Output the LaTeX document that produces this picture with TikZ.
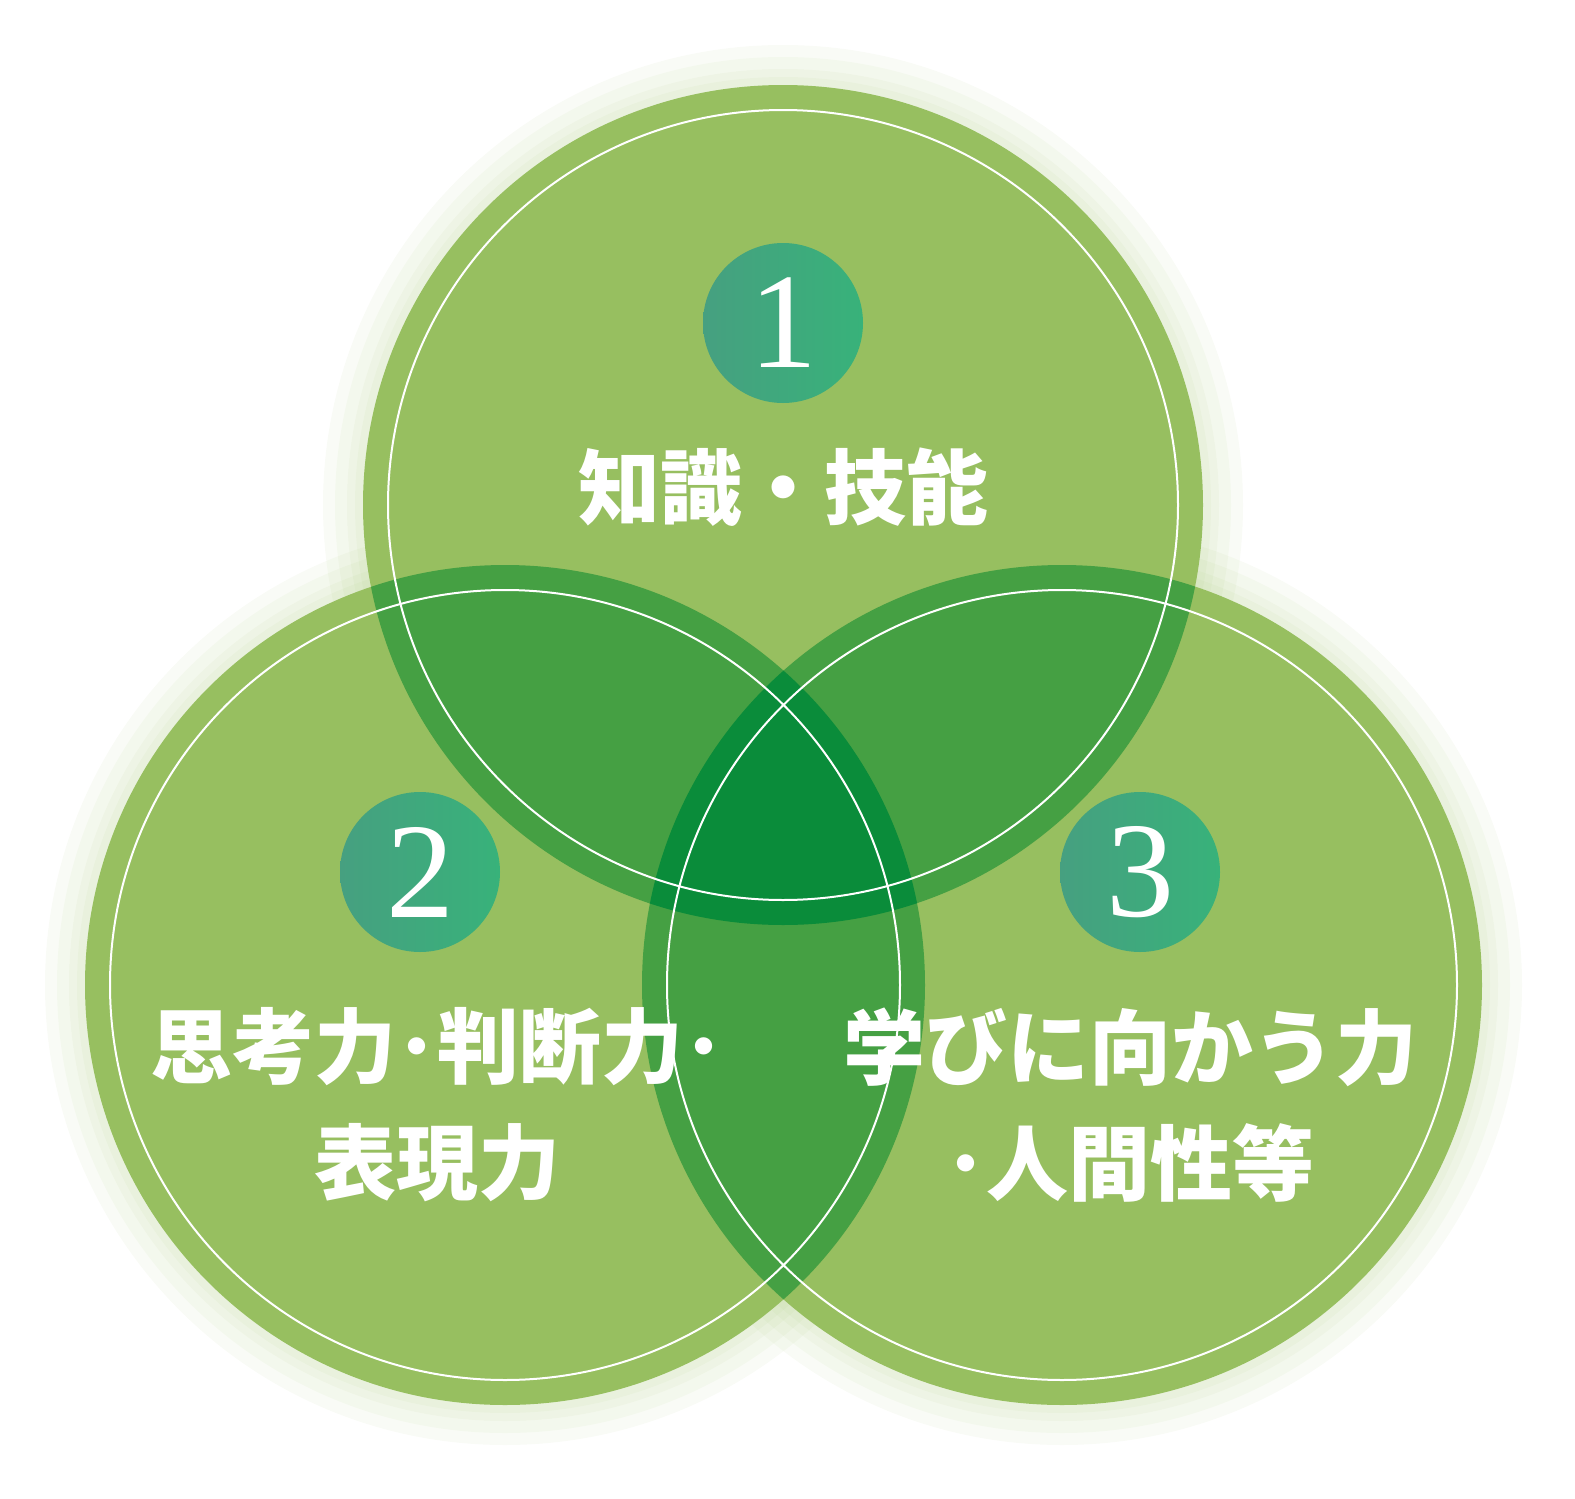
\documentclass[tikz,border=0pt]{standalone}
\usepackage{fontspec}
\newfontfamily\jpfont{Noto Sans CJK JP}
\newfontfamily\numfont{Liberation Serif}
\usetikzlibrary{positioning}
\definecolor{leafgreen}{RGB}{151, 191, 96}
\definecolor{midgreen}{RGB}{69, 160, 67}
\definecolor{deepgreen}{RGB}{10, 140, 58}
\definecolor{badgeL}{RGB}{70, 160, 128}
\definecolor{badgeR}{RGB}{56, 178, 122}
\begin{document}
\begin{tikzpicture}[
    x=0.5pt, y=-0.5pt,
    % node styles
    badge/.style = {
      circle,
      minimum size=80pt,
      left color=badgeL,
      right color=badgeR,
      text=white,
      font=\numfont\fontsize{68}{68}\selectfont
    },
    label/.style = {
      align=center,
      text=white,
      font=\jpfont\bfseries\fontsize{41}{58}\selectfont
    },
    % line styles
    rim/.style = {draw=white, line width=1pt}
  ]
  \useasboundingbox (0,0) rectangle (1575,1499);

  % --- Circles
  \coordinate (top) at (783,505);
  \coordinate (lft) at (505,985);
  \coordinate (rgt) at (1062,985);
  \foreach \c in {top,lft,rgt}
    \foreach \r in {460,448,436,428}
      \fill[leafgreen, opacity=0.06] (\c) circle (\r);
  \foreach \c in {top,lft,rgt}
    \fill[leafgreen] (\c) circle (420);
  \begin{scope}
    \clip (top) circle (420);
    \fill[midgreen] (lft) circle (420);
    \fill[midgreen] (rgt) circle (420);
  \end{scope}
  \begin{scope}
    \clip (lft) circle (420);
    \fill[midgreen] (rgt) circle (420);
  \end{scope}
  \begin{scope}
    \clip (top) circle (420);
    \clip (lft) circle (420);
    \fill[deepgreen] (rgt) circle (420);
  \end{scope}
  \foreach \c in {top,lft,rgt}
    \draw[rim] (\c) circle (395);

  % --- Badges
  \node[badge] (one) at (783,323) {1};
  \node[badge] (two) at (420,872) {2};
  \node[badge] (three) at (1140,872) {3};

  % --- Labels
  \node[label] (know) at (783,487) {知識・技能};
  \node[label] (think) at (437,1105) {思考力･判断力･\\表現力};
  \node[label] (learn) at (1130,1105) {学びに向かう力\\･人間性等};
\end{tikzpicture}
\end{document}
